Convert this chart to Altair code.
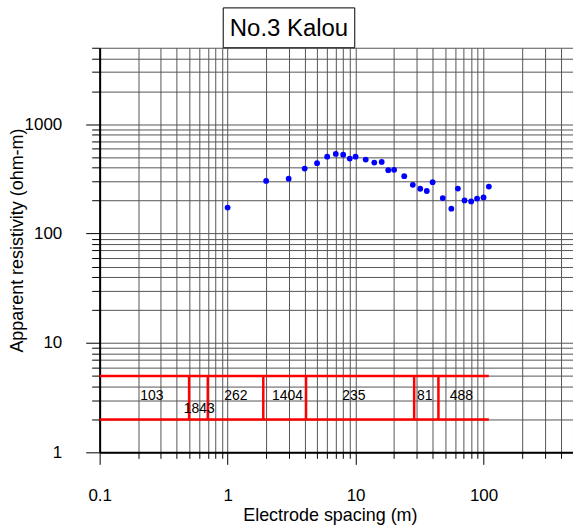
import altair as alt
import pandas as pd

# Sounding data: electrode spacing (m) vs apparent resistivity (ohm-m)
spacing = [1, 2, 3, 4, 5, 6, 7, 8, 9, 10, 12, 14, 16, 18, 20, 24, 28, 32, 36, 40,
           48, 56, 63, 71, 80, 89, 100, 110]
resistivity = [173, 303, 318, 393, 440, 505, 535, 527, 485, 505, 475, 446, 452, 380,
               383, 335, 279, 257, 245, 295, 211, 169, 258, 201, 197, 209, 214, 269]

# Interpreted layer model
layer_bounds = [0.5, 0.7, 1.9, 4.1, 28.7, 44.4]
layer_rho = [103, 1843, 262, 1404, 235, 81, 488]
label_x = [0.256, 0.60, 1.16, 2.94, 9.7, 34.7, 67.1]
label_y = [3.3, 2.5, 3.3, 3.3, 3.3, 3.3, 3.3]
box_left, box_right = 0.1, 110
box_low, box_high = 2, 5

title_text = "No.3 Kalou"

x_domain = [0.1, 500]
y_domain = [1, 5000]
x_ticks = [round(m * 10 ** e, 1) for e in (-1, 0, 1) for m in range(1, 10)] + [100, 200, 300, 400, 500]
y_ticks = [m * 10 ** e for e in (0, 1, 2) for m in range(1, 10)] + [1000, 2000, 3000, 4000, 5000]
x_major = [0.1, 1, 10, 100]
y_major = [1, 10, 100, 1000]

FONT = "Liberation Sans"
W, H = 475, 406

pts = pd.DataFrame({"a": spacing, "rho": resistivity})
hlines = pd.DataFrame({"x": [box_left, box_left], "x2": [box_right, box_right],
                       "y": [box_high, box_low]})
vlines = pd.DataFrame({"x": layer_bounds, "y": [box_low] * len(layer_bounds),
                       "y2": [box_high] * len(layer_bounds)})
labels = pd.DataFrame({"x": label_x, "y": label_y, "t": [str(v) for v in layer_rho]})


def major_test(vals):
    return "indexof([" + ",".join(str(v) for v in vals) + "], datum.value) >= 0"


xscale = alt.Scale(type="log", domain=x_domain, nice=False)
yscale = alt.Scale(type="log", domain=y_domain, nice=False)

xaxis = alt.Axis(
    values=x_ticks, format="~g",
    labelExpr=f"{major_test(x_major)} ? datum.label : ''",
    tickSize={"condition": {"test": major_test(x_major), "value": 12}, "value": 6},
    labelPadding=23, title="Electrode spacing (m)",
    titleX=231, titleY=63, titleBaseline="middle", titleAnchor="middle",
    labelFlush=False, labelOverlap=False,
)
yaxis = alt.Axis(
    values=y_ticks, format="~g",
    labelExpr=f"{major_test(y_major)} ? datum.label : ''",
    tickSize={"condition": {"test": major_test(y_major), "value": 14}, "value": 8},
    labelPadding=24, title="Apparent resistivity (ohm-m)",
    titleX=-82, titleY=193, titleBaseline="middle", titleAnchor="middle",
    labelFlush=False, labelOverlap=False,
)

points = alt.Chart(pts).mark_circle(size=34, color="#0000FF", opacity=1).encode(
    x=alt.X("a:Q", scale=xscale, axis=xaxis),
    y=alt.Y("rho:Q", scale=yscale, axis=yaxis),
)

h_rules = alt.Chart(hlines).mark_rule(color="#FF0000", strokeWidth=2.5).encode(
    x="x:Q", x2="x2:Q", y="y:Q"
)
v_rules = alt.Chart(vlines).mark_rule(color="#FF0000", strokeWidth=2.5).encode(
    x="x:Q", y="y:Q", y2="y2:Q"
)
layer_text = alt.Chart(labels).mark_text(font=FONT, fontSize=14, color="black").encode(
    x="x:Q", y="y:Q", text="t:N"
)

# Framed title above the plot
title_frame = alt.Chart(pd.DataFrame({"t": [title_text]})).mark_rect(
    fill="white", stroke="black", strokeWidth=1
).encode(x=alt.value(124), x2=alt.value(256), y=alt.value(-40), y2=alt.value(0))
title_label = alt.Chart(pd.DataFrame({"t": [title_text]})).mark_text(
    font=FONT, fontSize=24, color="black", baseline="middle", align="center"
).encode(x=alt.value(190), y=alt.value(-19), text="t:N")

chart = alt.layer(points, h_rules, v_rules, layer_text, title_frame, title_label).properties(
    width=W, height=H,
    autosize=alt.AutoSizeParams(type="none"),
    padding={"left": 100, "top": 47, "right": 0, "bottom": 76},
).configure_view(stroke=None).configure_axis(
    labelFont=FONT, titleFont=FONT, labelFontSize=17, titleFontSize=18,
    labelColor="black", titleColor="black", titleFontWeight="normal",
    grid=True, gridColor="#555555", gridWidth=1, gridOpacity=1,
    domainColor="black", domainWidth=2, tickColor="black", tickWidth=1,
)

chart.save("out.html", embed_options={"renderer": "svg", "actions": False})
